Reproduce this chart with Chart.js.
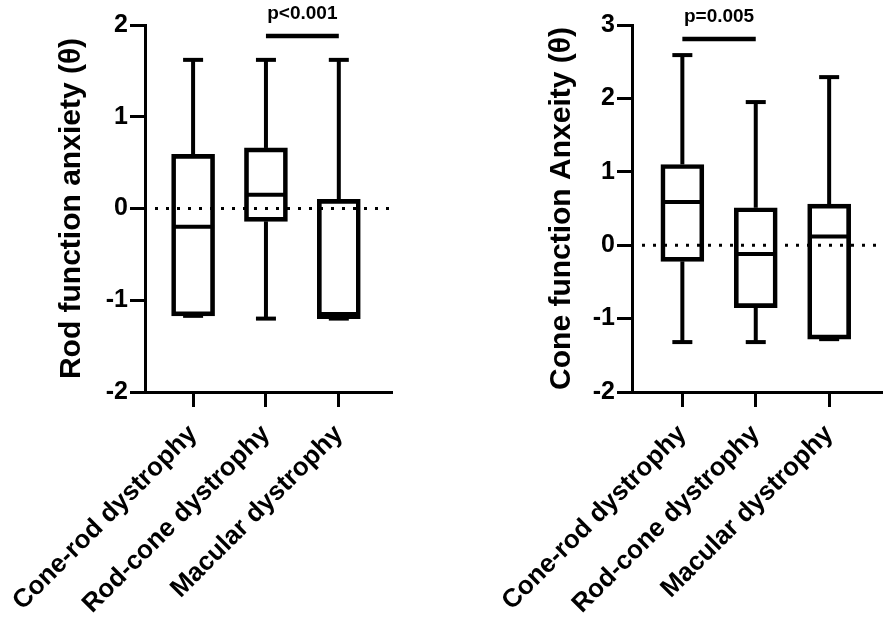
<!DOCTYPE html>
<html>
<head>
<meta charset="utf-8">
<script src="https://cdn.jsdelivr.net/npm/chart.js@4.4.1/dist/chart.umd.min.js"></script>
<style>
  body { margin: 0; background: #fff; width: 889px; height: 625px; position: relative; overflow: hidden; }
  .panel { position: absolute; top: 0; width: 445px; height: 625px; }
</style>
</head>
<body>
<div class="panel" style="left:0"><canvas id="rodChart" width="445" height="625"></canvas></div>
<div class="panel" style="left:444px"><canvas id="coneChart" width="445" height="625"></canvas></div>
<script>
const categories = ["Cone-rod dystrophy", "Rod-cone dystrophy", "Macular dystrophy"];

// Rod function anxiety (left panel)
const rodMin = [-1.17, -1.2, -1.2];
const rodQ1 = [-1.17, -0.14, -1.2];
const rodMedian = [-0.2, 0.15, -1.15];
const rodQ3 = [0.59, 0.66, 0.1];
const rodMax = [1.62, 1.62, 1.62];

// Cone function anxiety (right panel)
const coneMin = [-1.32, -1.32, -1.28];
const coneQ1 = [-0.22, -0.85, -1.28];
const coneMedian = [0.59, -0.12, 0.12];
const coneQ3 = [1.1, 0.51, 0.56];
const coneMax = [2.59, 1.95, 2.29];

// significance brackets: [from category, to category, level, label]
const rodSig = [1, 2, 1.88, "p<0.001"];
const coneSig = [0, 1, 2.81, "p=0.005"];

const FONT = "'Liberation Sans', Arial, sans-serif";

const boxWhiskers = {
  id: "boxWhiskers",
  beforeDatasetsDraw(chart) {
    // dotted line at zero
    const { ctx, chartArea, scales } = chart;
    const y0 = scales.y.getPixelForValue(0);
    ctx.save();
    ctx.strokeStyle = "#000";
    ctx.lineWidth = 3;
    ctx.setLineDash([3, 8]);
    ctx.beginPath();
    ctx.moveTo(chartArea.left + 10, y0);
    ctx.lineTo(chartArea.right, y0);
    ctx.stroke();
    ctx.restore();
  },
  afterDatasetsDraw(chart, args, opts) {
    const { ctx, scales: { x, y } } = chart;
    const s = opts.stats;
    const seg = (x1, y1, x2, y2) => {
      ctx.beginPath();
      ctx.moveTo(x1, y1);
      ctx.lineTo(x2, y2);
      ctx.stroke();
    };
    ctx.save();
    ctx.strokeStyle = "#000";
    ctx.lineWidth = 4;
    s.min.forEach((mn, i) => {
      const px = x.getPixelForValue(i);
      const half = 21;
      const cap = 10;
      seg(px, y.getPixelForValue(s.q3[i]), px, y.getPixelForValue(s.max[i]));
      seg(px, y.getPixelForValue(s.q1[i]), px, y.getPixelForValue(mn));
      seg(px - cap, y.getPixelForValue(s.max[i]), px + cap, y.getPixelForValue(s.max[i]));
      seg(px - cap, y.getPixelForValue(mn), px + cap, y.getPixelForValue(mn));
      seg(px - half, y.getPixelForValue(s.median[i]), px + half, y.getPixelForValue(s.median[i]));
    });
    ctx.restore();
  },
  afterDraw(chart, args, opts) {
    const { ctx, scales: { x, y } } = chart;
    const [a, b, level, label] = opts.sig;
    const yy = y.getPixelForValue(level);
    const xa = x.getPixelForValue(a);
    const xb = x.getPixelForValue(b);
    ctx.save();
    ctx.strokeStyle = "#000";
    ctx.lineWidth = 4.5;
    ctx.beginPath();
    ctx.moveTo(xa, yy);
    ctx.lineTo(xb, yy);
    ctx.stroke();
    ctx.fillStyle = "#000";
    ctx.font = "bold 19px " + FONT;
    ctx.textAlign = "center";
    ctx.textBaseline = "alphabetic";
    ctx.fillText(label, (xa + xb) / 2, yy - 17);
    ctx.restore();
  }
};

function makeChart(id, stats, sig, yTitle, yMax, xRange, pad, yWidth) {
  const ctx = document.getElementById(id).getContext("2d");
  return new Chart(ctx, {
    type: "bar",
    data: {
      datasets: [
        {
          data: categories.map((c, i) => ({ x: i, y: [stats.q1[i], stats.q3[i]] })),
          backgroundColor: "rgba(0,0,0,0)",
          borderColor: "#000",
          borderWidth: 4,
          borderSkipped: false,
          barThickness: 43,
        },
      ],
    },
    options: {
      responsive: false,
      animation: false,
      layout: { padding: pad },
      plugins: {
        legend: { display: false },
        tooltip: { enabled: false },
        boxWhiskers: { stats: stats, sig: sig },
      },
      scales: {
        x: {
          type: "linear",
          offset: false,
          min: xRange[0],
          max: xRange[1],
          border: { display: true, color: "#000", width: 3 },
          grid: { offset: false, drawOnChartArea: false, drawTicks: true, tickLength: 15, tickWidth: 3, tickColor: "#000", color: "#000" },
          ticks: {
            stepSize: 1,
            includeBounds: false,
            autoSkip: false,
            minRotation: 45,
            maxRotation: 45,
            padding: 12,
            color: "#000",
            font: { family: FONT, size: 26, weight: "bold" },
            callback: (v) => (Number.isInteger(v) ? categories[v] || "" : ""),
          },
          afterFit(scale) {
            scale.height = 233;
            scale.paddingLeft = 0;
            scale.paddingRight = 0;
          },
        },
        y: {
          min: -2,
          max: yMax,
          border: { display: true, color: "#000", width: 3 },
          grid: { drawOnChartArea: false, drawTicks: true, tickLength: 15, tickWidth: 3, tickColor: "#000", color: "#000" },
          ticks: {
            stepSize: 1,
            padding: 2,
            color: "#000",
            font: { family: FONT, size: 25, weight: "bold" },
          },
          title: {
            display: true,
            text: yTitle,
            color: "#000",
            padding: { top: 3, bottom: 0 },
            font: { family: FONT, size: 30, weight: "bold" },
          },
          afterFit(scale) {
            scale.width = yWidth;
            scale.paddingTop = 0;
            scale.paddingBottom = 0;
          },
        },
      },
    },
    plugins: [boxWhiskers],
  });
}

makeChart(
  "rodChart",
  { min: rodMin, q1: rodQ1, median: rodMedian, q3: rodQ3, max: rodMax },
  rodSig,
  "Rod function anxiety (θ)",
  2,
  [-0.66, 2.73],
  { left: 51, right: 53, top: 25, bottom: 0 },
  94
);

makeChart(
  "coneChart",
  { min: coneMin, q1: coneQ1, median: coneMedian, q3: coneQ3, max: coneMax },
  coneSig,
  "Cone function Anxeity (θ)",
  3,
  [-0.686, 2.72],
  { left: 97, right: 7, top: 25, bottom: 0 },
  91
);
</script>
</body>
</html>
